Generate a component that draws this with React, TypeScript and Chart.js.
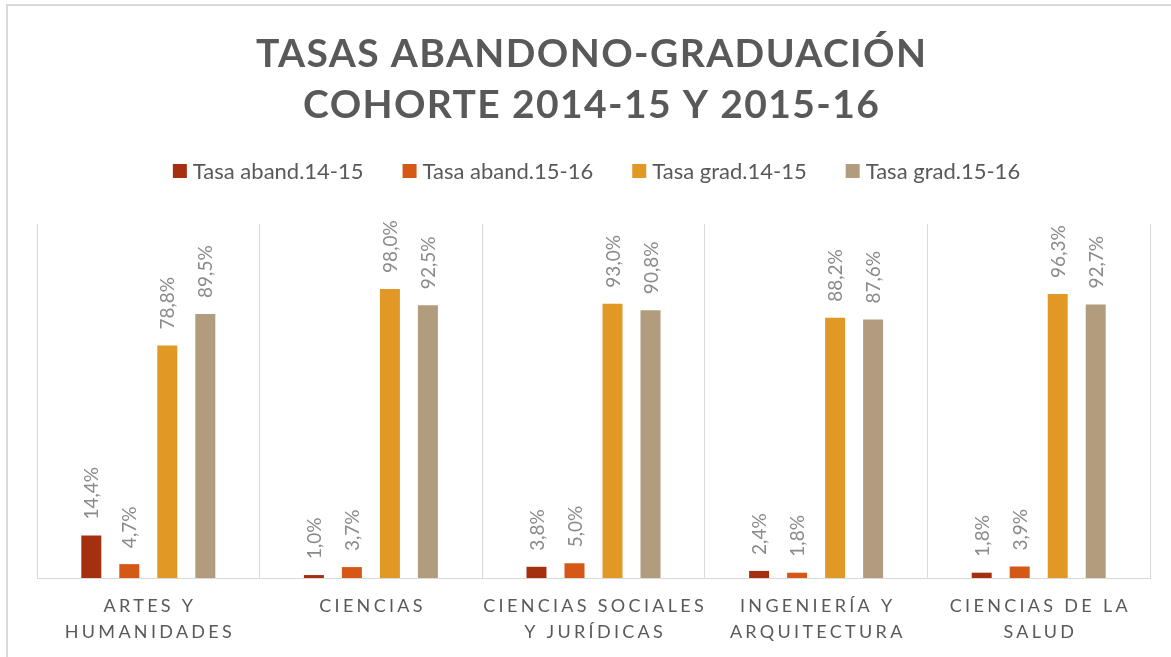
import React, { useEffect, useRef } from "react";
import { Chart, registerables } from "chart.js";

Chart.register(...registerables);

// ---- Data ----
const titleLines = ["TASAS ABANDONO-GRADUACIÓN", "COHORTE 2014-15 Y 2015-16"];
const categories = [
  ["ARTES Y", "HUMANIDADES"],
  ["CIENCIAS"],
  ["CIENCIAS SOCIALES", "Y JURÍDICAS"],
  ["INGENIERÍA Y", "ARQUITECTURA"],
  ["CIENCIAS DE LA", "SALUD"],
];
const seriesNames = ["Tasa aband.14-15", "Tasa aband.15-16", "Tasa grad.14-15", "Tasa grad.15-16"];
const abandono1415 = [14.4, 1.0, 3.8, 2.4, 1.8];
const abandono1516 = [4.7, 3.7, 5.0, 1.8, 3.9];
const graduacion1415 = [78.8, 98.0, 93.0, 88.2, 96.3];
const graduacion1516 = [89.5, 92.5, 90.8, 87.6, 92.7];
const seriesColors = ["#A5300F", "#D55816", "#E19825", "#B19C7D"];

const FONT = "Lato, 'Open Sans', sans-serif";
const TEXT_DARK = "#595959";
const TEXT_LABEL = "#8a8a8a";

const fmt = (v: number) => v.toFixed(1).replace(".", ",") + "%";

const decorPlugin = {
  id: "decor",
  afterDraw(chart: any) {
    const ctx: CanvasRenderingContext2D = chart.ctx;
    const area = chart.chartArea;
    const W = chart.width;
    const H = chart.height;

    // outer frame (left and top edges visible)
    ctx.save();
    ctx.strokeStyle = "#d9d9d9";
    ctx.lineWidth = 2;
    ctx.beginPath();
    ctx.moveTo(7, H);
    ctx.lineTo(7, 5);
    ctx.lineTo(W, 5);
    ctx.stroke();
    ctx.restore();

    // title
    ctx.save();
    ctx.fillStyle = TEXT_DARK;
    ctx.font = `bold 39px ${FONT}`;
    ctx.textBaseline = "alphabetic";
    ctx.textAlign = "left";
    (ctx as any).letterSpacing = "0px";
    const raw = ctx.measureText(titleLines[0]).width;
    const ls = (670 - raw) / (titleLines[0].length - 1);
    (ctx as any).letterSpacing = `${ls}px`;
    const titleCx = 591;
    const baselines = [67, 118];
    titleLines.forEach((line, i) => {
      const w = ctx.measureText(line).width - ls;
      ctx.fillText(line, titleCx - w / 2, baselines[i]);
    });
    ctx.restore();

    // legend
    ctx.save();
    ctx.font = `22px ${FONT}`;
    ctx.textBaseline = "alphabetic";
    ctx.textAlign = "left";
    const box = 14;
    const gapBoxText = 6;
    const gapItems = 39;
    const widths = seriesNames.map((n) => ctx.measureText(n).width);
    const total =
      widths.reduce((a, b) => a + b, 0) + seriesNames.length * (box + gapBoxText) + (seriesNames.length - 1) * gapItems;
    let x = 596.5 - total / 2;
    seriesNames.forEach((n, i) => {
      ctx.fillStyle = seriesColors[i];
      ctx.fillRect(x, 164, box, box);
      ctx.fillStyle = TEXT_DARK;
      ctx.fillText(n, x + box + gapBoxText, 179);
      x += box + gapBoxText + widths[i] + gapItems;
    });
    ctx.restore();

    // category labels
    const xScale = chart.scales.x;
    ctx.save();
    ctx.font = `18px ${FONT}`;
    ctx.fillStyle = TEXT_DARK;
    ctx.textAlign = "left";
    ctx.textBaseline = "alphabetic";
    const cls = 3.3;
    (ctx as any).letterSpacing = `${cls}px`;
    categories.forEach((lines, i) => {
      const cx = xScale.getPixelForValue(i);
      lines.forEach((line, j) => {
        const w = ctx.measureText(line).width - cls;
        ctx.fillText(line, cx - w / 2, area.bottom + 34 + j * 25.6);
      });
    });
    ctx.restore();

    // data labels (rotated)
    ctx.save();
    ctx.font = `19px ${FONT}`;
    ctx.fillStyle = TEXT_LABEL;
    ctx.textAlign = "left";
    ctx.textBaseline = "middle";
    chart.data.datasets.forEach((ds: any, di: number) => {
      const meta = chart.getDatasetMeta(di);
      meta.data.forEach((el: any, i: number) => {
        const v = ds.data[i];
        ctx.save();
        ctx.translate(el.x + 1, el.y - 16);
        ctx.rotate(-Math.PI / 2);
        ctx.fillText(fmt(v), 0, 0);
        ctx.restore();
      });
    });
    ctx.restore();
  },
};

export default function App() {
  const ref = useRef<HTMLCanvasElement | null>(null);

  useEffect(() => {
    if (!ref.current) return;
    const series = [abandono1415, abandono1516, graduacion1415, graduacion1516];
    const chart = new Chart(ref.current, {
      type: "bar",
      data: {
        labels: categories.map((c) => c.join(" ")),
        datasets: series.map((d, i) => ({
          label: seriesNames[i],
          data: d,
          backgroundColor: seriesColors[i],
          borderWidth: 0,
          barPercentage: 0.526,
          categoryPercentage: 0.683,
        })),
      },
      options: {
        responsive: false,
        devicePixelRatio: 1,
        animation: false,
        layout: { padding: { left: 37, right: 21, top: 224, bottom: 79 } },
        plugins: {
          legend: { display: false },
          title: { display: false },
          tooltip: { enabled: false },
        },
        scales: {
          x: {
            grid: { display: true, offset: true, color: "#d9d9d9", lineWidth: 1, drawTicks: false },
            border: { display: true, color: "#d9d9d9", width: 1 },
            ticks: { display: false },
          },
          y: {
            display: false,
            min: 0,
            max: 120,
          },
        },
      },
      plugins: [decorPlugin],
    });
    return () => chart.destroy();
  }, []);

  return (
    <div style={{ position: "fixed", left: 0, top: 0, width: 1171, height: 657, background: "#fff" }}>
      <canvas ref={ref} width={1171} height={657} style={{ display: "block" }} />
    </div>
  );
}
